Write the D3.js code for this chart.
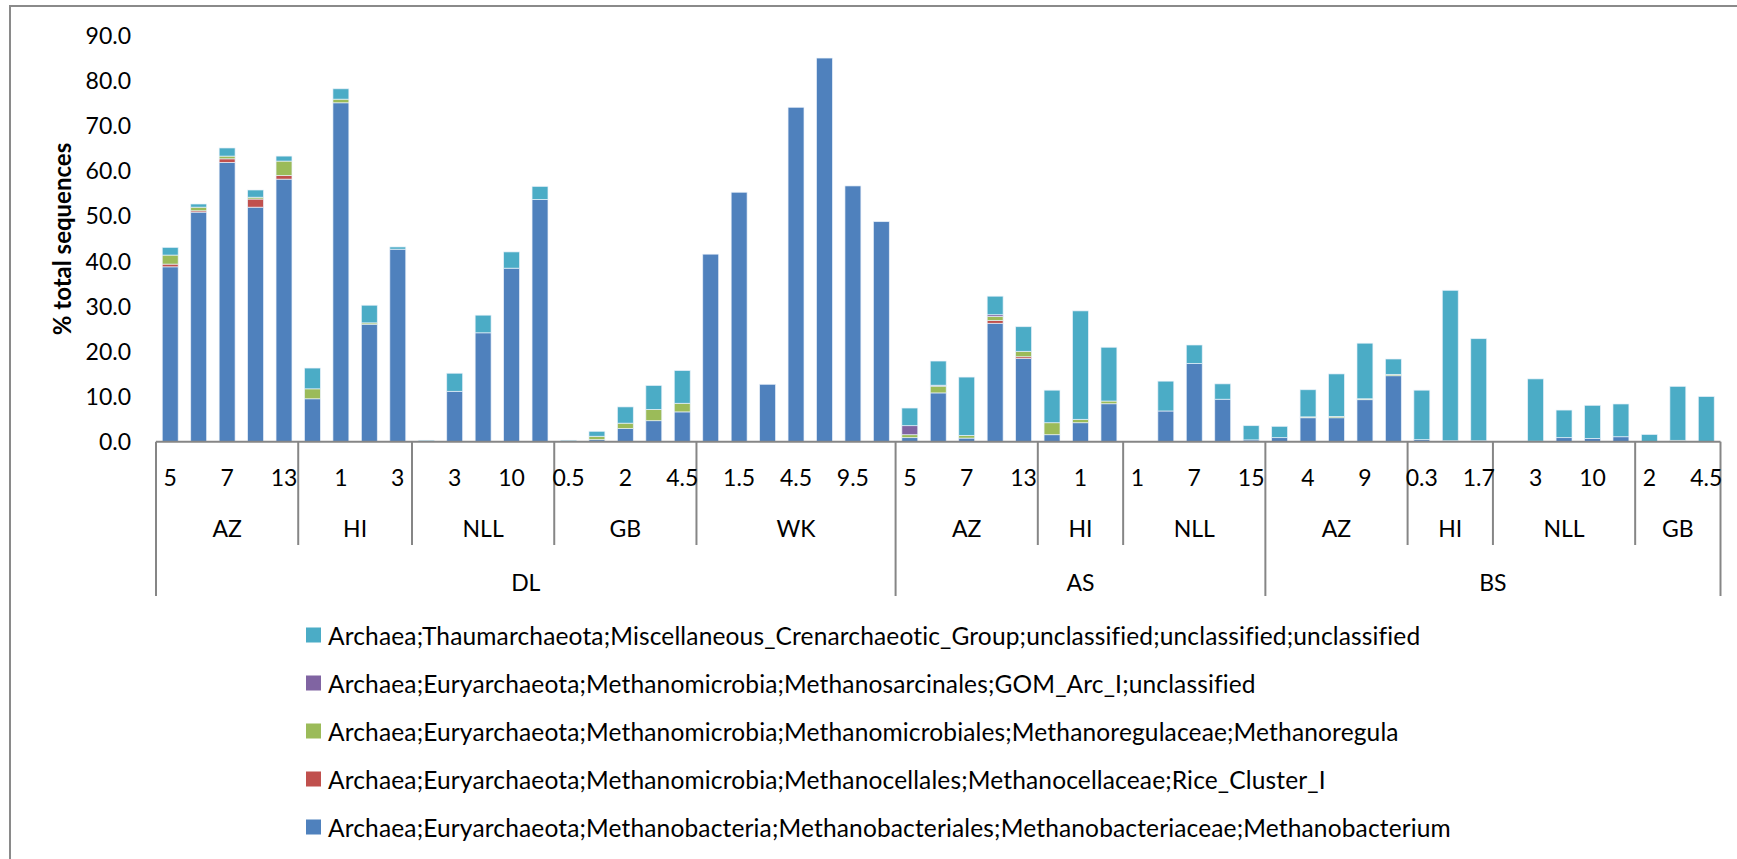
<!DOCTYPE html>
<html>
<head>
<meta charset="utf-8">
<script src="https://cdn.jsdelivr.net/npm/d3@7"></script>
<style>
  html, body { margin: 0; padding: 0; background: #fff; }
  svg { display: block; font-family: Lato, "Open Sans", sans-serif; }
</style>
</head>
<body>
<svg id="chart" width="1737" height="859"></svg>
<script>
// Depth labels along the axis (only every second sample depth is printed)
const depthLabels = [
  "5", "", "7", "", "13",
  "", "1", "", "3",
  "", "3", "", "10", "",
  "0.5", "", "2", "", "4.5",
  "", "1.5", "", "4.5", "", "9.5", "",
  "5", "", "7", "", "13",
  "", "1", "",
  "1", "", "7", "", "15",
  "", "4", "", "9", "",
  "0.3", "", "1.7",
  "", "3", "", "10", "",
  "2", "", "4.5"
];

// Site groups (second axis level) and how many samples each holds
const siteNames  = ["AZ", "HI", "NLL", "GB", "WK", "AZ", "HI", "NLL", "AZ", "HI", "NLL", "GB"];
const siteCounts = [5, 4, 5, 5, 7, 5, 3, 5, 5, 3, 5, 3];

// Regions (third axis level)
const regionNames  = ["DL", "AS", "BS"];
const regionCounts = [26, 13, 16];

// Series values, % of total sequences per sample
const methanobacterium = [
  38.7, 50.8, 61.8, 51.9, 58.1,
  9.5, 75.0, 26.0, 42.6,
  0, 11.15, 24.1, 38.4, 53.6,
  0, 0.45, 2.9, 4.65, 6.6,
  41.5, 55.2, 12.7, 74.0, 84.9, 56.6, 48.7,
  0.9, 10.8, 0.8, 26.2, 18.4,
  1.55, 4.2, 8.4,
  0, 6.8, 17.3, 9.4, 0.4,
  0.9, 5.3, 5.3, 9.3, 14.6,
  0.45, 0, 0,
  0, 0.1, 0.9, 0.7, 1.1,
  0, 0, 0
];
const riceClusterI = [
  0.6, 0.3, 0.8, 1.8, 0.8,
  0, 0, 0, 0,
  0, 0, 0, 0, 0,
  0, 0, 0, 0, 0,
  0, 0, 0, 0, 0, 0, 0,
  0, 0, 0, 0.6, 0.4,
  0, 0, 0,
  0, 0, 0, 0, 0,
  0, 0, 0, 0, 0,
  0, 0, 0,
  0, 0, 0, 0, 0,
  0, 0, 0
];
const methanoregula = [
  2.0, 0.8, 0.6, 0.4, 3.2,
  2.2, 0.8, 0.3, 0,
  0, 0, 0, 0, 0,
  0, 0.75, 1.2, 2.5, 1.9,
  0, 0, 0, 0, 0, 0, 0,
  0.65, 1.5, 0.6, 0.9, 1.2,
  2.65, 0.75, 0.6,
  0, 0, 0, 0, 0,
  0, 0.2, 0.3, 0.2, 0.3,
  0, 0.2, 0.2,
  0, 0, 0, 0, 0,
  0, 0.3, 0
];
const gomArcI = [
  0, 0, 0, 0, 0,
  0, 0, 0, 0,
  0, 0, 0, 0, 0,
  0, 0, 0, 0, 0,
  0, 0, 0, 0, 0, 0, 0,
  2.0, 0.2, 0, 0.4, 0,
  0, 0, 0,
  0, 0, 0, 0, 0,
  0, 0, 0, 0, 0,
  0, 0, 0,
  0, 0, 0, 0, 0,
  0, 0, 0
];
const mcgUnclassified = [
  1.7, 0.7, 1.8, 1.6, 1.1,
  4.6, 2.3, 3.9, 0.5,
  0.3, 4.0, 3.9, 3.6, 2.9,
  0.3, 1.1, 3.6, 5.3, 7.25,
  0, 0, 0, 0, 0, 0, 0,
  3.9, 5.35, 12.9, 4.1, 5.45,
  7.2, 24.0, 11.9,
  0, 6.6, 4.1, 3.4, 3.15,
  2.5, 6.0, 9.4, 12.3, 3.4,
  10.95, 33.3, 22.6,
  0, 13.8, 6.1, 7.35, 7.25,
  1.6, 11.95, 10.0
];

// Series in stacking order (bottom to top)
const seriesNames = [
  "Archaea;Euryarchaeota;Methanobacteria;Methanobacteriales;Methanobacteriaceae;Methanobacterium",
  "Archaea;Euryarchaeota;Methanomicrobia;Methanocellales;Methanocellaceae;Rice_Cluster_I",
  "Archaea;Euryarchaeota;Methanomicrobia;Methanomicrobiales;Methanoregulaceae;Methanoregula",
  "Archaea;Euryarchaeota;Methanomicrobia;Methanosarcinales;GOM_Arc_I;unclassified",
  "Archaea;Thaumarchaeota;Miscellaneous_Crenarchaeotic_Group;unclassified;unclassified;unclassified"
];
const seriesValues = [methanobacterium, riceClusterI, methanoregula, gomArcI, mcgUnclassified];
const seriesColors = ["#4F81BD", "#C0504D", "#9BBB59", "#8064A2", "#4BACC6"];

const yTicks = [0, 10, 20, 30, 40, 50, 60, 70, 80, 90];

// ---- layout ----
const svg = d3.select("#chart");
const plot = { left: 156, right: 1720.5, top: 35, bottom: 441.7 };
const axisGrey = "#868686";

// outer chart frame
svg.append("rect")
  .attr("x", 10).attr("y", 6)
  .attr("width", 1800).attr("height", 900)
  .attr("fill", "none").attr("stroke", "#8a8a8a").attr("stroke-width", 2);

const n = depthLabels.length;
const idx = d3.range(n);
const x = d3.scaleBand().domain(idx).range([plot.left, plot.right])
  .paddingInner(0.44).paddingOuter(0.22);
const step = x.step();
const y = d3.scaleLinear().domain([0, 90]).range([plot.bottom, plot.top]);

// stacked data
const rows = idx.map(i => {
  const r = { i };
  seriesValues.forEach((s, k) => r["s" + k] = s[i]);
  return r;
});
const stack = d3.stack().keys(seriesValues.map((_, k) => "s" + k));
const layers = stack(rows);

const bars = svg.append("g");
layers.forEach((layer, k) => {
  bars.append("g").attr("fill", seriesColors[k])
    .selectAll("rect")
    .data(layer.filter(d => d[1] - d[0] > 0))
    .join("rect")
    .attr("x", d => x(d.data.i))
    .attr("width", x.bandwidth())
    .attr("y", d => y(d[1]))
    .attr("height", d => y(d[0]) - y(d[1]))
    .attr("stroke", "rgba(235,242,250,0.85)")
    .attr("stroke-width", 0.8);
});

// y axis: labels only, no axis line
const yAxis = d3.axisLeft(y).tickValues(yTicks).tickFormat(d3.format(".1f")).tickSize(0).tickPadding(0);
const yg = svg.append("g").attr("transform", `translate(131,0)`).call(yAxis);
yg.select(".domain").remove();
yg.selectAll("text")
  .attr("font-family", "Lato, 'Open Sans', sans-serif")
  .attr("font-size", 23).attr("fill", "#000").attr("dy", "0.35em");

// y axis title
svg.append("text")
  .attr("transform", `translate(61,${(140 + 338) / 2}) rotate(-90)`)
  .attr("text-anchor", "middle").attr("dominant-baseline", "central")
  .attr("font-size", 24).attr("font-weight", 700).attr("fill", "#000")
  .text("% total sequences");

// x axis: multi-level categories
const xg = svg.append("g").attr("stroke", axisGrey).attr("stroke-width", 2);
xg.append("line")
  .attr("x1", plot.left).attr("x2", plot.right)
  .attr("y1", plot.bottom).attr("y2", plot.bottom);

const siteBottom = 545, regionBottom = 596;
const siteLabelY = 528, regionLabelY = 582, depthLabelY = 477;

// depth labels
svg.append("g").selectAll("text")
  .data(idx.filter(i => depthLabels[i] !== ""))
  .join("text")
  .attr("x", i => x(i) + x.bandwidth() / 2)
  .attr("y", depthLabelY)
  .attr("text-anchor", "middle").attr("dominant-baseline", "central")
  .attr("font-size", 23).attr("fill", "#000")
  .text(i => depthLabels[i]);

// site separators and labels
let start = 0;
const siteEdges = [0];
siteCounts.forEach(c => { start += c; siteEdges.push(start); });
let rs = 0;
const regionEdges = [0];
regionCounts.forEach(c => { rs += c; regionEdges.push(rs); });
const edgeX = e => plot.left + e * step;

siteEdges.forEach(e => {
  const full = regionEdges.includes(e);
  xg.append("line")
    .attr("x1", edgeX(e)).attr("x2", edgeX(e))
    .attr("y1", plot.bottom).attr("y2", full ? regionBottom : siteBottom);
});
svg.append("g").selectAll("text")
  .data(siteNames.map((s, k) => ({ s, a: siteEdges[k], b: siteEdges[k + 1] })))
  .join("text")
  .attr("x", d => (edgeX(d.a) + edgeX(d.b)) / 2)
  .attr("y", siteLabelY)
  .attr("text-anchor", "middle").attr("dominant-baseline", "central")
  .attr("font-size", 23).attr("fill", "#000")
  .text(d => d.s);

svg.append("g").selectAll("text")
  .data(regionNames.map((s, k) => ({ s, a: regionEdges[k], b: regionEdges[k + 1] })))
  .join("text")
  .attr("x", d => (edgeX(d.a) + edgeX(d.b)) / 2)
  .attr("y", regionLabelY)
  .attr("text-anchor", "middle").attr("dominant-baseline", "central")
  .attr("font-size", 23).attr("fill", "#000")
  .text(d => d.s);

// legend, top entry is the top of the stack
const legendOrder = d3.range(seriesNames.length).reverse();
const legend = svg.append("g");
const legendRow = legend.selectAll("g")
  .data(legendOrder)
  .join("g")
  .attr("transform", (k, j) => `translate(306,${635 + j * 48})`);
legendRow.append("rect")
  .attr("x", 0).attr("y", -7.5).attr("width", 15).attr("height", 15)
  .attr("fill", k => seriesColors[k]);
legendRow.append("text")
  .attr("x", 22).attr("y", 0)
  .attr("dominant-baseline", "central")
  .attr("font-size", 24.5).attr("letter-spacing", 0.15).attr("fill", "#000")
  .text(k => seriesNames[k]);
</script>
</body>
</html>
